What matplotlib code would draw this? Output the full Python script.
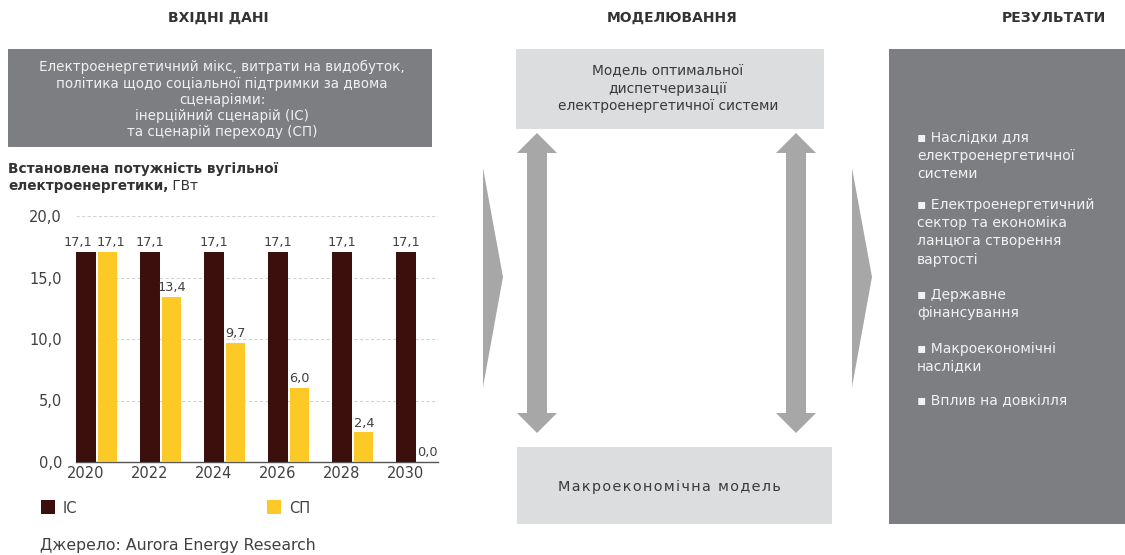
import matplotlib
matplotlib.use("Agg")
import matplotlib.pyplot as plt
from matplotlib.patches import Rectangle, Polygon, FancyArrow

plt.rcParams['font.family'] = ['DejaVu Sans']

# data
years = ["2020", "2022", "2024", "2026", "2028", "2030"]
ic_values = [17.1, 17.1, 17.1, 17.1, 17.1, 17.1]
sp_values = [17.1, 13.4, 9.7, 6.0, 2.4, 0.0]
series_names = ["ІС", "СП"]
y_ticks = [0, 5, 10, 15, 20]

input_lines = ["Електроенергетичний мікс, витрати на видобуток,",
               "політика щодо соціальної підтримки за двома",
               "сценаріями:",
               "інерційний сценарій (ІС)",
               "та сценарій переходу (СП)"]
model_lines = ["Модель оптимальної", "диспетчеризації",
               "електроенергетичної системи"]
results = [
    ["▪ Наслідки для", "електроенергетичної", "системи"],
    ["▪ Електроенергетичний", "сектор та економіка", "ланцюга створення", "вартості"],
    ["▪ Державне", "фінансування"],
    ["▪ Макроекономічні", "наслідки"],
    ["▪ Вплив на довкілля"],
]
result_baselines = [142, 209, 299, 353, 405]

IC_COLOR = "#3b100c"
SP_COLOR = "#fdc926"
DARK_BOX = "#7d7e82"
LIGHT_BOX = "#dcdddf"
ARROW = "#a6a7a6"
TEXT = "#404040"

W, H = 1125, 555
fig = plt.figure(figsize=(W / 100, H / 100), dpi=100)

# overlay in pixel coordinates
bg = fig.add_axes([0, 0, 1, 1])
bg.set_xlim(0, W)
bg.set_ylim(H, 0)
bg.axis("off")

# headers
for x, t in [(218, "ВХІДНІ ДАНІ"), (672, "МОДЕЛЮВАННЯ"), (1054, "РЕЗУЛЬТАТИ")]:
    bg.text(x, 18, t, ha="center", va="center", fontsize=10, fontweight="bold", color="#333333")

# input box
bg.add_patch(Rectangle((8, 49), 424, 98, color=DARK_BOX, lw=0))
for i, line in enumerate(input_lines):
    bg.text(222, 71.5 + 16.2 * i, line, ha="center", va="baseline", fontsize=9.75,
            color="#f0f0f0")

# chart title
bg.text(8, 173, "Встановлена потужність вугільної", ha="left", va="baseline",
        fontsize=9.8, fontweight="bold", color="#333333")
t1 = bg.text(8, 190, "електроенергетики,", ha="left", va="baseline",
             fontsize=9.8, fontweight="bold", color="#333333")
bg.annotate(" ГВт", xycoords=t1, xy=(1, 0), va="bottom", ha="left",
            fontsize=9.8, color="#333333")

# model boxes
bg.add_patch(Rectangle((516, 49), 308, 80, color=LIGHT_BOX, lw=0))
for i, line in enumerate(model_lines):
    bg.text(668, 75 + 17.7 * i, line, ha="center", va="baseline", fontsize=9.9,
            color="#3a3a3a")
bg.add_patch(Rectangle((517, 447), 315, 77, color=LIGHT_BOX, lw=0))
bg.text(669, 491, "\u200a".join("Макроекономічна модель"),
        ha="center", va="baseline", fontsize=10.4, color="#3a3a3a")

# double arrows
for cx in (537, 796):
    for y0, dy in ((283, -150), (283, 150)):
        bg.add_patch(FancyArrow(cx, y0, 0, dy, width=20, head_width=40,
                                head_length=20, length_includes_head=True,
                                color=ARROW, lw=0))

# chevrons
for x0 in (483, 852):
    bg.add_patch(Polygon([(x0, 168), (x0 + 20, 277), (x0, 387)], closed=True,
                         color=ARROW, lw=0))

# results box
bg.add_patch(Rectangle((889, 49), 236, 475, color=DARK_BOX, lw=0))
for block, yb in zip(results, result_baselines):
    for j, line in enumerate(block):
        bg.text(917, yb + 18.2 * j, line, ha="left", va="baseline", fontsize=10,
                color="#f2f2f2")

# legend
bg.add_patch(Rectangle((41, 500), 14, 14, color=IC_COLOR, lw=0))
bg.text(63, 513, series_names[0], ha="left", va="baseline", fontsize=10.5, color=TEXT)
bg.add_patch(Rectangle((267, 500), 14, 14, color=SP_COLOR, lw=0))
bg.text(289, 513, series_names[1], ha="left", va="baseline", fontsize=10.5, color=TEXT)

# source
bg.text(40, 550, "Джерело: Aurora Energy Research", ha="left", va="baseline",
        fontsize=11.3, color=TEXT)

# bar chart
ax = fig.add_axes([76 / W, (H - 462) / H, 362 / W, 246 / H])
ax.set_facecolor("none")
x = list(range(len(years)))
bw = 0.3
off = 0.34
ic_bars = ax.bar(x, ic_values, width=bw, color=IC_COLOR, zorder=3)
sp_bars = ax.bar([i + off for i in x], sp_values, width=bw, color=SP_COLOR, zorder=3)
for k, bars in enumerate((ic_bars, sp_bars)):
    for i, b in enumerate(bars):
        v = b.get_height()
        dx = 0
        if i == 0:
            dx = -6 if k == 0 else 2  # pull the 2020 pair apart
        ax.annotate(f"{v:.1f}".replace(".", ","),
                    xy=(b.get_x() + b.get_width() / 2, v), xytext=(dx, 2),
                    textcoords="offset points", ha="center", va="bottom",
                    fontsize=9.3, color=TEXT)

ax.set_xlim(-0.156, 5.5)
ax.set_ylim(0, 20)
ax.set_xticks(x)
ax.set_xticklabels(years)
ax.set_yticks(y_ticks)
ax.set_yticklabels([f"{v:.1f}".replace(".", ",") for v in y_ticks])
ax.tick_params(axis="both", length=0, labelsize=10.5, labelcolor=TEXT)
ax.tick_params(axis="x", pad=3)
ax.tick_params(axis="y", pad=10)
ax.grid(axis="y", color="#d4d4d4", linestyle=(0, (3, 2)), lw=0.8, zorder=0)
for s in ("top", "right", "left"):
    ax.spines[s].set_visible(False)
ax.spines["bottom"].set_color("#555555")
ax.spines["bottom"].set_linewidth(1)

fig.savefig("out.png", dpi=100)
